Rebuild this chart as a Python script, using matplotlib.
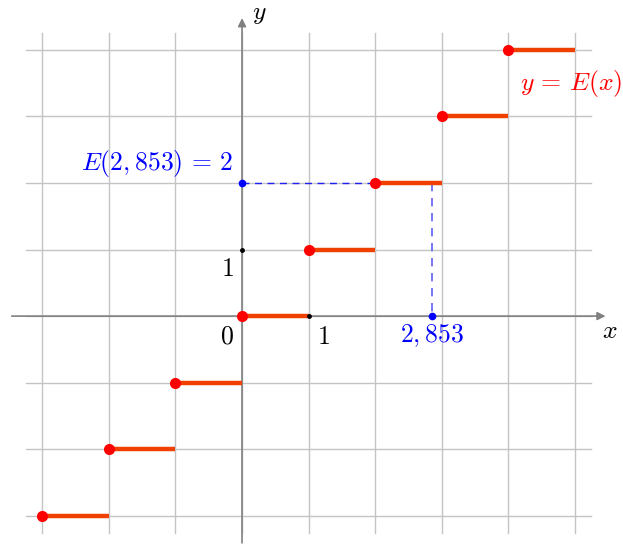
import numpy as np
import matplotlib.pyplot as plt

plt.rcParams['mathtext.fontset'] = 'cm'
plt.rcParams['font.family'] = 'DejaVu Serif'

# données
step_x = [-3, -2, -1, 0, 1, 2, 3, 4]        # début de chaque palier
step_y = [-3, -2, -1, 0, 1, 2, 3, 4]        # valeur E(x) sur le palier
x0 = 2.853
e_x0 = 2
grid_x = [-3, -2, -1, 0, 1, 2, 3, 4, 5]
grid_y = [-3, -2, -1, 0, 1, 2, 3, 4]

fig = plt.figure(figsize=(6.23, 5.47), dpi=100)
ax = fig.add_axes([0, 0, 1, 1])
ax.set_xlim(-3.634, 5.72)
ax.set_ylim(-3.47, 4.75)
ax.axis('off')

# grille
for gx in grid_x:
    ax.plot([gx, gx], [-3.26, 4.25], color='#c4c4c4', lw=1, zorder=1)
for gy in grid_y:
    ax.plot([-3.24, 5.24], [gy, gy], color='#c4c4c4', lw=1, zorder=1)

# axes
ax.annotate('', xy=(5.5, 0), xytext=(-3.5, 0),
            arrowprops=dict(arrowstyle='-|>', color='#808080', lw=1.2,
                            mutation_scale=12), zorder=2)
ax.annotate('', xy=(0, 4.52), xytext=(0, -3.45),
            arrowprops=dict(arrowstyle='-|>', color='#808080', lw=1.2,
                            mutation_scale=12), zorder=2)

# pointillés bleus
ax.plot([0, x0], [e_x0, e_x0], color='#2020f0', lw=1, ls=(0, (5, 4)), zorder=3)
ax.plot([x0, x0], [e_x0, 0], color='#6060f0', lw=1.2, ls=(0, (5, 4)), zorder=3)

# paliers
for a, v in zip(step_x, step_y):
    ax.plot([a, a + 1], [v, v], color='#f04000', lw=3.2, solid_capstyle='butt', zorder=4)
ax.plot(step_x, step_y, 'o', color='#ff0000', ms=7, zorder=5)

ax.plot([0, 1], [1, 0], 'o', color='black', ms=2.5, zorder=5)
ax.plot([0, x0], [e_x0, 0], 'o', color='#0000ff', ms=4.5, zorder=6)

# textes
fs = 18.5
ax.text(0.15, 4.54, '$y$', fontsize=fs, ha='left', va='center')
ax.text(5.41, -0.22, '$x$', fontsize=fs, ha='left', va='center')
ax.text(-0.13, -0.3, '$0$', fontsize=fs, ha='right', va='center')
ax.text(-0.13, 0.72, '$1$', fontsize=fs, ha='right', va='center')
ax.text(1.13, -0.3, '$1$', fontsize=fs, ha='left', va='center')
ax.text(x0, -0.3, '$2,853$', fontsize=fs, ha='center', va='center', color='#0000ff')
ax.text(-0.14, 2.3, r'$E(2,853)\,=\,2$', fontsize=fs, ha='right', va='center', color='#0000ff')
ax.text(4.17, 3.5, r'$y\,=\,E(x)$', fontsize=fs, ha='left', va='center', color='#ff0000')

fig.savefig('out.png', dpi=100)
